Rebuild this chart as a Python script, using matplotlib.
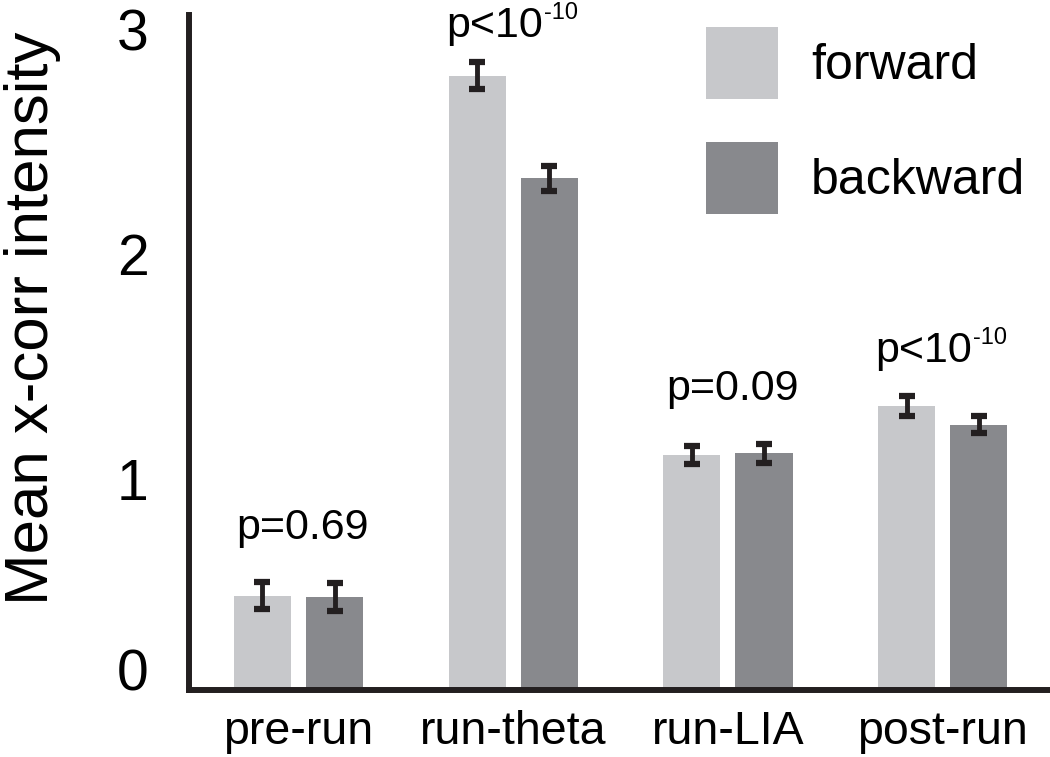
import numpy as np
import matplotlib
matplotlib.use("Agg")
import matplotlib.pyplot as plt
from matplotlib.patches import Patch

# ==================== data ====================
categories = ["pre-run", "run-theta", "run-LIA", "post-run"]
forward_mean = [0.507, 2.818, 1.133, 1.351]
forward_err = [0.060, 0.060, 0.040, 0.044]
backward_mean = [0.502, 2.364, 1.142, 1.267]
backward_err = [0.062, 0.056, 0.042, 0.038]
p_main = ["p=0.69", "p<10", "p=0.09", "p<10"]
p_sup = ["", "\u201010", "", "\u201010"]
p_heights = [0.76, 2.99, 1.378, 1.547]
y_ticks = [1, 2, 3]

# ==================== style ====================
plt.rcParams["font.family"] = ["Liberation Sans", "DejaVu Sans"]

c_fwd = "#c7c8cb"
c_bwd = "#88898d"
c_err = "#231f20"

fig = plt.figure(figsize=(10.5, 7.57), dpi=100)
ax = fig.add_axes([0.18, 0.0885, 0.82, 0.8917])

x = np.arange(len(categories))
offset = 0.168
width = 0.266

err_kw = dict(ecolor=c_err, elinewidth=3.5, capsize=5.5, capthick=4.5)
ax.bar(x - offset, forward_mean, width, color=c_fwd, linewidth=0,
       yerr=forward_err, error_kw=err_kw, label="forward")
ax.bar(x + offset, backward_mean, width, color=c_bwd, linewidth=0,
       yerr=backward_err, error_kw=err_kw, label="backward")

# p-value annotations (superscript drawn as a second, smaller text)
for xi, main, sup, yh in zip(x, p_main, p_sup, p_heights):
    if sup == "":
        ax.text(xi + 0.02, yh, main, ha="center", va="baseline", fontsize=31)
    else:
        ax.text(xi + 0.137, yh, main, ha="right", va="baseline", fontsize=31)
        ax.annotate(sup, xy=(xi + 0.137, yh), xytext=(1, 13), textcoords="offset points",
                    ha="left", va="baseline", fontsize=17)

# axes
y_bottom = 0.089
ax.set_xlim(-0.51, 3.5)
ax.set_ylim(y_bottom, 3.089)
ax.set_xticks(x)
ax.set_xticklabels(categories, fontsize=33.5)
ax.set_yticks([y_bottom] + y_ticks)
ax.set_yticklabels(["0"] + [str(t) for t in y_ticks], fontsize=41)
for i, tk in enumerate(ax.yaxis.get_major_ticks()):
    tk.label1.set_va("baseline" if i == 0 else "center")
ax.tick_params(axis="both", length=0)
ax.tick_params(axis="y", pad=29)
ax.tick_params(axis="x", pad=14.5)

for side in ["top", "right"]:
    ax.spines[side].set_visible(False)
for side in ["left", "bottom"]:
    ax.spines[side].set_linewidth(4.3)
    ax.spines[side].set_color(c_err)

ax.set_ylabel("Mean x-corr intensity", fontsize=44.5)
ax.yaxis.set_label_coords(-0.149, 0.55)

# legend
handles = [Patch(facecolor=c_fwd, edgecolor="none", label="forward"),
           Patch(facecolor=c_bwd, edgecolor="none", label="backward")]
fig.legend(handles=handles, loc="upper left", bbox_to_anchor=(706 / 1050, 1 - 27 / 757),
           frameon=False, fontsize=36, handlelength=1.44, handleheight=1.84,
           labelspacing=0.86, handletextpad=0.66, borderpad=0, borderaxespad=0)

fig.savefig("out.png", dpi=100)
